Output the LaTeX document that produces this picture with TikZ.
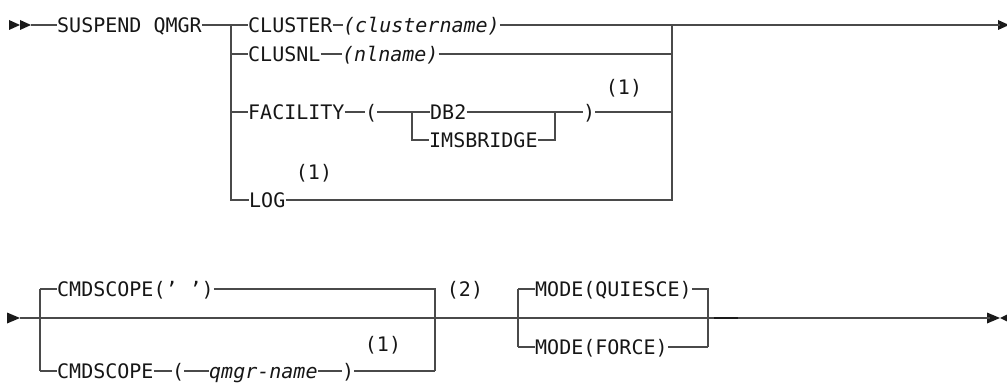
\documentclass[tikz,border=0pt]{standalone}
\usepackage{fontspec}
\newfontfamily\rrfont{DejaVu Sans Mono}
\definecolor{ln}{HTML}{4a4a4a}
\definecolor{tx}{HTML}{161616}
\definecolor{tp}{HTML}{1a1a1a}
\begin{document}
\begin{tikzpicture}[x=1pt,y=-1pt,
  kw/.style={inner sep=0pt, text height=14.6pt, text depth=0pt, anchor=west,
    font=\rrfont\fontsize{20}{22}\selectfont, text=tx},
  var/.style={kw, font=\rrfont\itshape\fontsize{20}{22}\selectfont},
  note/.style={kw, anchor=center},
  rl/.style={draw=ln, line width=1.35pt},
  tip/.style={fill=tp}]
\useasboundingbox (0,0) rectangle (1007,385);

% ---------------- Row 1 ----------------
\fill[tip] (9,20) -- (20,25) -- (9,30) -- cycle;
\fill[tip] (20,20) -- (31,25) -- (20,30) -- cycle;
\coordinate (s0) at (31,25);
\node[kw] (suspend) at (57,25) {SUSPEND QMGR};
\coordinate (jL) at (231,25);
\coordinate (jR) at (672,25);
\coordinate (e1) at (1000,25);
\fill[tip] (998,20) -- (1009,25) -- (998,30) -- cycle;

\node[kw] (cluster) at (248,25) {CLUSTER};
\node[var] (clname) at (343,25) {(clustername)};

\node[kw] (clusnl) at (248,54) {CLUSNL};
\node[var] (nlname) at (342,54) {(nlname)};

\node[kw] (facility) at (248,112) {FACILITY};
\node[kw] (fopen) at (365,112) {(};
\node[kw] (db2) at (430,112) {DB2};
\node[kw] (ims) at (429,140) {IMSBRIDGE};
\node[kw] (fclose) at (583,112) {)};
\node[note] (n1a) at (624,87) {(1)};

\node[kw] (log) at (249,200) {LOG};
\node[note] (n1b) at (314,172) {(1)};

\coordinate (iL) at (412,112);
\coordinate (iR) at (555,112);

\draw[rl] (s0) -- (suspend.west);
\draw[rl] (suspend.east) -- (cluster.west);
\draw[rl] (cluster.east) -- (clname.west);
\draw[rl] (clname.east) -- (jR) -- (e1);
\draw[rl] (jL) |- (log.west);
\draw[rl] (jL |- clusnl) -- (clusnl.west);
\draw[rl] (clusnl.east) -- (nlname.west);
\draw[rl] (nlname.east) -- (jR |- nlname);
\draw[rl] (jL |- facility) -- (facility.west);
\draw[rl] (facility.east) -- (fopen.west);
\draw[rl] (fopen.east) -- (iL) -- (db2.west);
\draw[rl] (iL) |- (ims.west);
\draw[rl] (db2.east) -- (iR) -- (fclose.west);
\draw[rl] (ims.east) -| (iR);
\draw[rl] (fclose.east) -- (jR |- fclose);
\draw[rl] (log.east) -| (jR);

% ---------------- Row 2 ----------------
\fill[tip] (7,312.5) -- (20,318) -- (7,323.5) -- cycle;
\coordinate (s2) at (20,318);
\coordinate (e2) at (990,318);
\fill[tip] (987,312.5) -- (1000,318) -- (987,323.5) -- cycle;
\fill[tip] (1007,314.5) -- (1000,318) -- (1007,321.5) -- cycle;

\coordinate (cL) at (40,318);
\coordinate (cR) at (435,318);
\node[kw] (cmd1) at (57,289) {CMDSCOPE(’ ’)};
\node[kw] (cmd2) at (57,371) {CMDSCOPE};
\node[kw] (copen) at (172,371) {(};
\node[var] (qmgr) at (209,371) {qmgr-name};
\node[kw] (cclose) at (342,371) {)};
\node[note] (n2) at (465,289) {(2)};
\node[note] (n1c) at (383,344) {(1)};

\coordinate (mL) at (518,318);
\coordinate (mR) at (708,318);
\node[kw] (mq) at (535,289) {MODE(QUIESCE)};
\node[kw] (mf) at (535,347) {MODE(FORCE)};

\draw[rl] (s2) -- (e2);
\draw[rl] (cL |- cmd1) -- (cL |- cmd2);
\draw[rl] (cL |- cmd1) -- (cmd1.west);
\draw[rl] (cmd1.east) -- (cR |- cmd1) -- (cR |- cmd2);
\draw[rl] (cL |- cmd2) -- (cmd2.west);
\draw[rl] (cmd2.east) -- (copen.west);
\draw[rl] (copen.east) -- (qmgr.west);
\draw[rl] (qmgr.east) -- (cclose.west);
\draw[rl] (cclose.east) -- (cR |- cmd2);

\draw[rl] (mL |- mq) -- (mL |- mf);
\draw[rl] (mL |- mq) -- (mq.west);
\draw[rl] (mq.east) -- (mR |- mq) -- (mR |- mf);
\draw[rl] (mL |- mf) -- (mf.west);
\draw[rl] (mf.east) -- (mR |- mf);
\draw[draw=tp, line width=1.8pt] (714,318) -- (738,318);
\end{tikzpicture}
\end{document}
